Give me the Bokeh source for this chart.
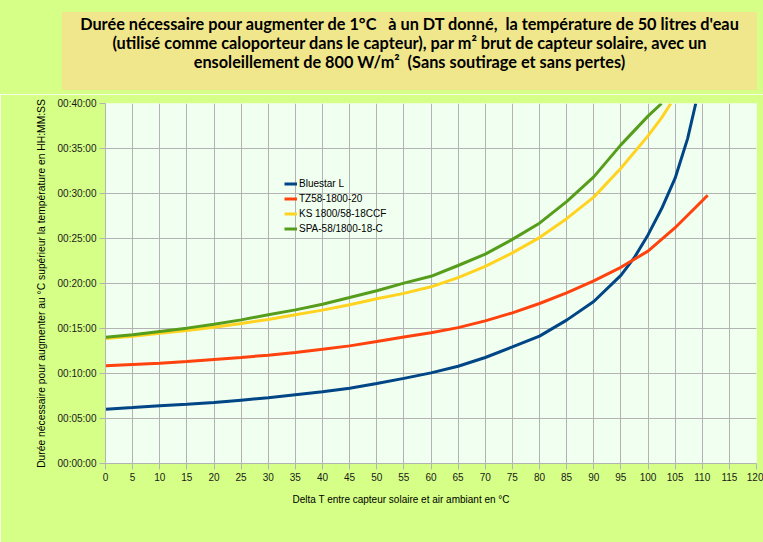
from bokeh.plotting import figure
from bokeh.models import (Legend, LegendItem, FixedTicker, ColumnDataSource, Div, Title)
from bokeh.layouts import column
from bokeh.embed import file_html
from bokeh.resources import INLINE
import html

# ---------------- data ----------------
title_lines = [
    "Durée nécessaire pour augmenter de 1°C   à un DT donné,  la température de 50 litres d'eau",
    "(utilisé comme caloporteur dans le capteur), par m² brut de capteur solaire, avec un",
    "ensoleillement de 800 W/m²  (Sans soutirage et sans pertes)",
]
x_title = "Delta T entre capteur solaire et air ambiant en °C"
y_title = "Durée nécessaire pour augmenter au °C supérieur la température en HH:MM:SS"

series_names = ["Bluestar L", "TZ58-1800-20", "KS 1800/58-18CCF", "SPA-58/1800-18-C"]

blue_x = [0, 5, 10, 15, 20, 25, 30, 35, 40, 45, 50, 55, 60, 65, 70, 75, 80, 85, 90, 95,
          97.5, 100, 102.5, 105, 107.3, 108.8]
blue_y = [6.04, 6.22, 6.41, 6.59, 6.78, 7.04, 7.30, 7.63, 7.96, 8.37, 8.89, 9.46, 10.07,
          10.8, 11.78, 12.96, 14.15, 15.93, 18.0, 20.9, 22.9, 25.4, 28.3, 31.7, 36.1, 40.0]

orange_x = [0, 5, 10, 15, 20, 25, 30, 35, 40, 45, 50, 55, 60, 65, 70, 75, 80, 85, 90, 95,
            100, 105, 110, 111]
orange_y = [10.85, 11.0, 11.15, 11.33, 11.56, 11.78, 12.04, 12.33, 12.7, 13.07, 13.56, 14.06,
            14.52, 15.1, 15.85, 16.74, 17.78, 18.96, 20.3, 21.8, 23.6, 26.2, 29.2, 29.8]

yellow_x = [0, 5, 10, 15, 20, 25, 30, 35, 40, 45, 50, 55, 60, 65, 70, 75, 80, 85, 90, 95,
            100, 102.5, 104.2]
yellow_y = [13.9, 14.15, 14.48, 14.78, 15.15, 15.56, 16.0, 16.52, 17.04, 17.63, 18.3, 18.9,
            19.63, 20.65, 21.9, 23.4, 25.1, 27.2, 29.6, 32.8, 36.4, 38.4, 40.0]

green_x = [0, 5, 10, 15, 20, 25, 30, 35, 40, 45, 50, 55, 60, 65, 70, 75, 80, 85, 90, 95,
           100, 102.5]
green_y = [14.04, 14.3, 14.67, 15.04, 15.48, 15.96, 16.52, 17.07, 17.7, 18.44, 19.19, 20.04,
           20.8, 22.0, 23.26, 24.9, 26.7, 29.1, 31.85, 35.4, 38.6, 40.0]

x_ticks = list(range(0, 121, 5))
y_ticks = list(range(0, 41, 5))
y_tick_labels = ["00:00:00", "00:05:00", "00:10:00", "00:15:00", "00:20:00",
                 "00:25:00", "00:30:00", "00:35:00", "00:40:00"]

colors = ["#004586", "#ff420e", "#ffd320", "#579d1c"]
BG = "#d5ff87"
BOX = "#f0e68c"
PLOT_BG = "#f0fff0"
GRID = "#b3b3b3"

W, H_TOP, H_MAIN = 763, 94, 448

# ---------------- title panel (HTML text) ----------------
inner = "<br>".join(html.escape(s) for s in title_lines)
title_html = (
    f'<div style="position:absolute; left:62px; top:12px; width:695px; height:78px; '
    f'background:{BOX}; box-sizing:border-box; padding-top:2px; text-align:center; '
    f'white-space:pre; font-family:Lato, sans-serif; font-weight:bold; font-size:16.3px; '
    f'line-height:19px; color:#000;">{inner}</div>'
)
t = Div(text=title_html, width=W, height=H_TOP, margin=0,
        styles={"background-color": BG, "position": "relative"})

# ---------------- main chart ----------------
p = figure(width=W, height=H_MAIN, x_range=(0, 120), y_range=(0, 40),
           toolbar_location=None, output_backend="svg",
           min_border_left=105, min_border_right=7, min_border_top=9, min_border_bottom=79)
p.background_fill_color = PLOT_BG
p.border_fill_color = BG
p.outline_line_color = None

p.xaxis.ticker = FixedTicker(ticks=x_ticks)
p.yaxis.ticker = FixedTicker(ticks=y_ticks)
p.yaxis.major_label_overrides = {v: lab for v, lab in zip(y_ticks, y_tick_labels)}
p.xgrid.ticker = FixedTicker(ticks=x_ticks)
p.ygrid.ticker = FixedTicker(ticks=y_ticks)
p.grid.grid_line_color = GRID
p.grid.grid_line_width = 1

for ax in (p.xaxis, p.yaxis):
    ax.axis_line_color = GRID
    ax.major_tick_line_color = GRID
    ax.minor_tick_line_color = None
    ax.major_tick_in = 0
    ax.major_tick_out = 6
    ax.major_label_text_font = "Liberation Sans"
    ax.major_label_text_font_size = "10px"
    ax.major_label_text_color = "#1a1a1a"
    ax.major_label_standoff = 3

p.yaxis.axis_label = y_title
p.yaxis.axis_label_text_font = "Liberation Sans"
p.yaxis.axis_label_text_font_size = "10.3px"
p.yaxis.axis_label_text_font_style = "normal"
p.yaxis.axis_label_text_color = "#000000"
p.yaxis.axis_label_standoff = 8

xt = Title(text=x_title, align="left", offset=187, standoff=17,
           text_font="Liberation Sans", text_font_size="10px",
           text_font_style="normal", text_color="#000000")
p.add_layout(xt, "below")

renderers = []
for xs, ys, c in zip([blue_x, orange_x, yellow_x, green_x],
                     [blue_y, orange_y, yellow_y, green_y], colors):
    src = ColumnDataSource(dict(x=xs, y=ys))
    r = p.line("x", "y", source=src, line_color=c, line_width=3)
    renderers.append(r)

legend = Legend(items=[LegendItem(label=n, renderers=[r]) for n, r in zip(series_names, renderers)],
                location=(179, 227), padding=0, margin=0, spacing=0,
                label_height=15, glyph_height=15, glyph_width=13, label_standoff=2,
                background_fill_alpha=0, border_line_color=None,
                label_text_font="Liberation Sans", label_text_font_size="10px",
                label_text_color="#000000")
p.add_layout(legend)

layout = column(t, p, spacing=0)
open("out.html", "w").write(file_html(layout, INLINE))
